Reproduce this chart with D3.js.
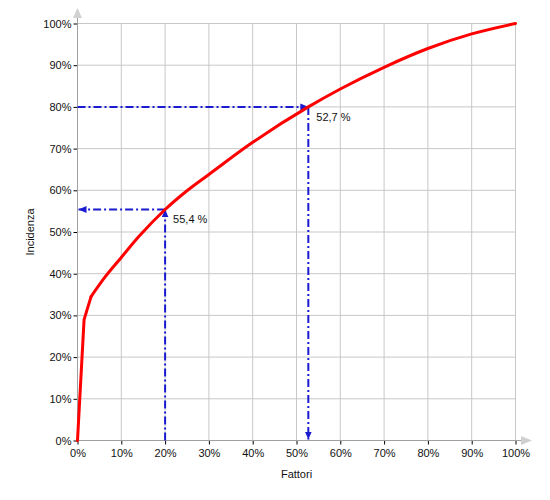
<!DOCTYPE html>
<html>
<head>
<meta charset="utf-8">
<script src="https://cdn.jsdelivr.net/npm/d3@7"></script>
<style>
  body { margin: 0; background: #fff; }
  text { font-family: "Liberation Sans", Arial, sans-serif; font-size: 11px; fill: #111; }
</style>
</head>
<body>
<script>
// Curve data (percent of factors vs cumulative incidence)
var fattori   = [0, 1.5, 3.1, 6, 10, 14, 20, 25, 30, 40, 52.7, 60, 70, 80, 90, 100];
var incidenza = [0, 29, 34.5, 38.8, 43.9, 48.9, 55.4, 59.9, 63.8, 71.5, 80, 84.3, 89.5, 94, 97.5, 100];

// Reference points
var refX = [20, 52.7];
var refY = [55.4, 80];
var refLabels = ["55,4 %", "52,7 %"];

var tickValues = [0, 10, 20, 30, 40, 50, 60, 70, 80, 90, 100];

// Define margins
var margin = {top: 23.5, right: 34.5, bottom: 59.5, left: 77.5};
var outer_width = 550;
var outer_height = 500;

var svg = d3.select("body")
	.append("svg")
	.attr("width", outer_width)
	.attr("height", outer_height);

var xScale = d3.scaleLinear()
	.domain([0, 100])
	.range([margin.left, outer_width - margin.right]);

var yScale = d3.scaleLinear()
	.domain([0, 100])
	.range([outer_height - margin.bottom, margin.top]);

// markers
var defs = svg.append("defs");
defs.append("marker")
	.attr("id", "blueArrow")
	.attr("viewBox", "0 -4 8 8")
	.attr("refX", 8).attr("refY", 0)
	.attr("markerWidth", 8).attr("markerHeight", 8)
	.attr("markerUnits", "userSpaceOnUse")
	.attr("orient", "auto")
	.append("path")
	.attr("d", "M0,-3.5L8,0L0,3.5Z")
	.style("fill", "#1a1ad0");

// grid
svg.append("g")
	.selectAll("line.vgrid")
	.data(tickValues.slice(1))
	.enter().append("line")
	.attr("x1", function(d){ return xScale(d); })
	.attr("x2", function(d){ return xScale(d); })
	.attr("y1", yScale(0)).attr("y2", yScale(100))
	.style("stroke", "#c8c8c8").style("stroke-width", 1);

svg.append("g")
	.selectAll("line.hgrid")
	.data(tickValues.slice(1))
	.enter().append("line")
	.attr("y1", function(d){ return yScale(d); })
	.attr("y2", function(d){ return yScale(d); })
	.attr("x1", xScale(0)).attr("x2", xScale(100))
	.style("stroke", "#c8c8c8").style("stroke-width", 1);

// axes
var xAxis = d3.axisBottom(xScale)
	.tickValues(tickValues)
	.tickSize(4)
	.tickFormat(function(d){ return d + "%"; });

var yAxis = d3.axisLeft(yScale)
	.tickValues(tickValues)
	.tickSize(4)
	.tickFormat(function(d){ return d + "%"; });

var gx = svg.append("g")
	.attr("transform", "translate(0," + yScale(0) + ")")
	.call(xAxis);
gx.select(".domain").remove();
gx.selectAll(".tick line").style("stroke", "#000");
gx.selectAll(".tick text").attr("dy", "0.9em").style("font-size", "11px").style("font-family", "Liberation Sans, Arial, sans-serif").style("fill", "#111");

var gy = svg.append("g")
	.attr("transform", "translate(" + xScale(0) + ",0)")
	.call(yAxis);
gy.select(".domain").remove();
gy.selectAll(".tick line").style("stroke", "#000");
gy.selectAll(".tick text").attr("x", -6).style("font-size", "11px").style("font-family", "Liberation Sans, Arial, sans-serif").style("fill", "#111");

// axis lines with grey arrow tips
svg.append("line")
	.attr("x1", xScale(0)).attr("x2", 522)
	.attr("y1", yScale(0)).attr("y2", yScale(0))
	.style("stroke", "#a0a0a0");
svg.append("line")
	.attr("x1", xScale(0)).attr("x2", xScale(0))
	.attr("y1", yScale(0)).attr("y2", 17)
	.style("stroke", "#a0a0a0");
svg.append("path")
	.attr("d", "M521," + (yScale(0) - 4.5) + "L532," + yScale(0) + "L521," + (yScale(0) + 4.5) + "Z")
	.style("fill", "#d0d0d0");
svg.append("path")
	.attr("d", "M" + (xScale(0) - 4.5) + ",18L" + xScale(0) + ",8L" + (xScale(0) + 4.5) + ",18Z")
	.style("fill", "#d0d0d0");

// reference lines (dash-dot)
var dash = "8,3,2,3";
// point 1: up from x axis to curve, then left to y axis
svg.append("line")
	.attr("x1", xScale(refX[0])).attr("y1", yScale(0))
	.attr("x2", xScale(refX[0])).attr("y2", yScale(refY[0]))
	.attr("marker-end", "url(#blueArrow)")
	.style("stroke", "#1a1ad0").style("stroke-width", 2).style("stroke-dasharray", dash);
svg.append("line")
	.attr("x1", xScale(refX[0])).attr("y1", yScale(refY[0]))
	.attr("x2", xScale(0) + 1).attr("y2", yScale(refY[0]))
	.attr("marker-end", "url(#blueArrow)")
	.style("stroke", "#1a1ad0").style("stroke-width", 2).style("stroke-dasharray", dash);
// point 2: right from y axis to curve, then down to x axis
svg.append("line")
	.attr("x1", xScale(0)).attr("y1", yScale(refY[1]))
	.attr("x2", xScale(refX[1])).attr("y2", yScale(refY[1]))
	.attr("marker-end", "url(#blueArrow)")
	.style("stroke", "#1a1ad0").style("stroke-width", 2).style("stroke-dasharray", dash);
svg.append("line")
	.attr("x1", xScale(refX[1])).attr("y1", yScale(refY[1]))
	.attr("x2", xScale(refX[1])).attr("y2", yScale(0) - 1)
	.attr("marker-end", "url(#blueArrow)")
	.style("stroke", "#1a1ad0").style("stroke-width", 2).style("stroke-dasharray", dash);

// curve: straight segments at the steep start, smooth afterwards
var pts = fattori.map(function(d, i){ return [d, incidenza[i]]; });

var lineStart = d3.line()
	.x(function(d){ return xScale(d[0]); })
	.y(function(d){ return yScale(d[1]); })
	.curve(d3.curveLinear);

var lineRest = d3.line()
	.x(function(d){ return xScale(d[0]); })
	.y(function(d){ return yScale(d[1]); })
	.curve(d3.curveMonotoneX);

svg.append("path")
	.datum(pts.slice(0, 3))
	.attr("d", lineStart)
	.style("fill", "none")
	.style("stroke", "#ff0000")
	.style("stroke-width", 3)
	.style("stroke-linejoin", "round")
	.style("stroke-linecap", "round");

svg.append("path")
	.datum(pts.slice(2))
	.attr("d", lineRest)
	.style("fill", "none")
	.style("stroke", "#ff0000")
	.style("stroke-width", 3)
	.style("stroke-linecap", "round");

// labels
svg.selectAll("text.reflabel")
	.data(refLabels)
	.enter().append("text")
	.attr("class", "reflabel")
	.attr("x", function(d, i){ return xScale(refX[i]) + 8; })
	.attr("y", function(d, i){ return yScale(refY[i]) + 14; })
	.text(function(d){ return d; });

// axis titles
svg.append("text")
	.attr("x", (xScale(0) + xScale(100)) / 2)
	.attr("y", 478)
	.style("text-anchor", "middle")
	.text("Fattori");

svg.append("text")
	.attr("transform", "translate(34," + ((yScale(0) + yScale(100)) / 2) + ") rotate(-90)")
	.style("text-anchor", "middle")
	.text("Incidenza");
</script>
</body>
</html>
